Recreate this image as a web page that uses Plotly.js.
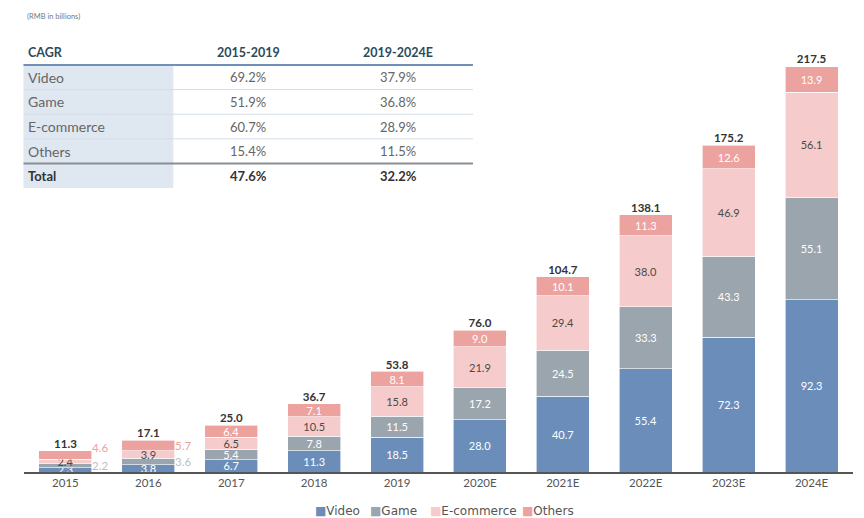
<!DOCTYPE html>
<html>
<head>
<meta charset="utf-8">
<script src="https://cdn.plot.ly/plotly-3.0.1.min.js"></script>
<style>html,body{margin:0;padding:0;background:#fff;}#chart{width:864px;height:518px;}</style>
</head>
<body>
<div id="chart"></div>
<script>
// ---- data ----
const years = ['2015','2016','2017','2018','2019','2020E','2021E','2022E','2023E','2024E'];
const video = [2.3, 3.8, 6.7, 11.3, 18.5, 28.0, 40.7, 55.4, 72.3, 92.3];
const game = [2.2, 3.6, 5.4, 7.8, 11.5, 17.2, 24.5, 33.3, 43.3, 55.1];
const ecommerce = [2.4, 3.9, 6.5, 10.5, 15.8, 21.9, 29.4, 38.0, 46.9, 56.1];
const others = [4.6, 5.7, 6.4, 7.1, 8.1, 9.0, 10.1, 11.3, 12.6, 13.9];
const totals = [11.3, 17.1, 25.0, 36.7, 53.8, 76.0, 104.7, 138.1, 175.2, 217.5];

const seriesNames = ['Video','Game','E-commerce','Others'];
const cagrRows = ['Video','Game','E-commerce','Others','Total'];
const cagrPeriods = ['2015-2019','2019-2024E'];
const cagr1519 = ['69.2%','51.9%','60.7%','15.4%','47.6%'];
const cagr1924 = ['37.9%','36.8%','28.9%','11.5%','32.2%'];
const unitNote = '(RMB in billions)';

// ---- style ----
const FONT = 'Lato, "Open Sans", sans-serif';
const colors = ['#6a8db9', '#9aa5ad', '#f5cbcb', '#eca3a0'];
const textColors = ['#ffffff', '#ffffff', '#4a4a4a', '#ffffff'];
const W = 864, H = 518;
const M = {l:23.5, r:10.5, t:43, b:46, autoexpand:false};
const plotW = W - M.l - M.r, plotH = H - M.t - M.b;
const px = x => (x - M.l) / plotW;          // pixel -> paper x
const py = y => (H - M.b - y) / plotH;      // pixel -> paper y

const nOutside = 2; // first two years: game & others labels drawn outside the bar
function fmt(arr, hideFirst){ return arr.map((v,i)=> (hideFirst && i<nOutside) ? '' : v.toFixed(1)); }

const seriesVals = [video, game, ecommerce, others];
const hideFirst = [false, true, false, true];
const traces = seriesVals.map((vals,k)=>({
  type:'bar', name:seriesNames[k], x:years, y:vals,
  marker:{color:colors[k], line:{color:'#ffffff', width:0.6}},
  text: fmt(vals, hideFirst[k]), textposition:'inside', insidetextanchor:'middle',
  textfont:{family:FONT, size:11, color:textColors[k]}, hoverinfo:'skip', cliponaxis:false, showlegend:false
}));
traces.push({type:'scatter', mode:'text', x:years, y:totals, text:totals.map(v=>'<b>'+v.toFixed(1)+'</b>'),
   textposition:'top center', textfont:{family:FONT, size:11.5, color:'#333333'}, showlegend:false, hoverinfo:'skip', cliponaxis:false});

const annotations = [];
const shapes = [];
// outside labels for first years (x given as category index)
const othersShift = [3, -5];
for(let i=0;i<nOutside;i++){
  annotations.push({x:i, y:video[i]+game[i]/2, xref:'x', yref:'y', text:game[i].toFixed(1), showarrow:false,
    xshift:35, font:{family:FONT, size:11.5, color:'#b9c0c6'}});
  annotations.push({x:i, y:totals[i], xref:'x', yref:'y', text:others[i].toFixed(1), showarrow:false,
    xshift:35, yshift:othersShift[i], font:{family:FONT, size:11.5, color:'#eca3a0'}});
}

// unit note
annotations.push({xref:'paper', yref:'paper', x:px(25), y:py(16), xanchor:'left', yanchor:'middle', text:unitNote,
  showarrow:false, font:{family:FONT, size:7.5, color:'#777777'}});

// custom legend (small squares + names)
const legX = [313, 368, 428, 520];
seriesNames.forEach((n,k)=>{
  annotations.push({xref:'paper', yref:'paper', x:px(legX[k]), y:py(511), xanchor:'left', yanchor:'middle',
    text:'<span style="color:'+colors[k]+';font-size:12px">■</span>'+n, showarrow:false,
    font:{family:'"DejaVu Sans", sans-serif', size:12, color:'#555555'}});
});

// CAGR table
const tL = 23, tR = 473, colL = 173;
const headerY = 53, headerLine = 65, rowH = 24.6, tableBottom = 188;
const col1X = 248, col2X = 398;
shapes.push({type:'rect', xref:'paper', yref:'paper', x0:px(tL), x1:px(colL), y0:py(headerLine), y1:py(tableBottom),
  fillcolor:'#dfe7f1', line:{width:0}, layer:'below'});
annotations.push({xref:'paper', yref:'paper', x:px(26), y:py(headerY), xanchor:'left', yanchor:'middle', text:'<b>CAGR</b>',
  showarrow:false, font:{family:FONT, size:12.5, color:'#2c4a5c'}});
[col1X, col2X].forEach((cx,j)=>{
  annotations.push({xref:'paper', yref:'paper', x:px(cx), y:py(headerY), xanchor:'center', yanchor:'middle', text:'<b>'+cagrPeriods[j]+'</b>',
    showarrow:false, font:{family:FONT, size:12.5, color:'#2c4a5c'}});
});
cagrRows.forEach((r,i)=>{
  const cy = headerLine + rowH*(i+0.5);
  const isTotal = (i === cagrRows.length-1);
  const col = isTotal ? '#333333' : '#666666';
  const b = s => isTotal ? '<b>'+s+'</b>' : s;
  annotations.push({xref:'paper', yref:'paper', x:px(26), y:py(cy), xanchor:'left', yanchor:'middle', text:b(r),
    showarrow:false, font:{family:FONT, size:isTotal?13:14, color:col}});
  annotations.push({xref:'paper', yref:'paper', x:px(col1X), y:py(cy), xanchor:'center', yanchor:'middle', text:b(cagr1519[i]),
    showarrow:false, font:{family:FONT, size:13, color:col}});
  annotations.push({xref:'paper', yref:'paper', x:px(col2X), y:py(cy), xanchor:'center', yanchor:'middle', text:b(cagr1924[i]),
    showarrow:false, font:{family:FONT, size:13, color:col}});
  if(i>0){
    const ly = headerLine + rowH*i;
    shapes.push({type:'line', xref:'paper', yref:'paper', x0:px(tL), x1:px(tR), y0:py(ly), y1:py(ly),
      line:{color: isTotal ? '#8a8f94' : '#d4dde8', width: isTotal ? 2 : 1}});
  }
});
shapes.push({type:'line', xref:'paper', yref:'paper', x0:px(tL), x1:px(tR), y0:py(headerLine), y1:py(headerLine),
  line:{color:'#7090b8', width:2.2}});

const layout = {
  width:W, height:H, margin:M, paper_bgcolor:'#ffffff', plot_bgcolor:'#ffffff',
  barmode:'stack', bargap:0.36, showlegend:false,
  uniformtext:{mode:'show', minsize:11},
  font:{family:FONT, color:'#555555'},
  xaxis:{type:'category', range:[-0.5, 9.5], showline:true, linecolor:'#555555', linewidth:1.5, ticks:'',
    tickfont:{family:FONT, size:11.5, color:'#555555'}, showgrid:false, zeroline:false, fixedrange:true, automargin:false},
  yaxis:{range:[0,230], visible:false, showgrid:false, zeroline:false, fixedrange:true, automargin:false},
  annotations:annotations, shapes:shapes
};

Plotly.newPlot('chart', traces, layout, {displayModeBar:false, staticPlot:true});
</script>
</body>
</html>
